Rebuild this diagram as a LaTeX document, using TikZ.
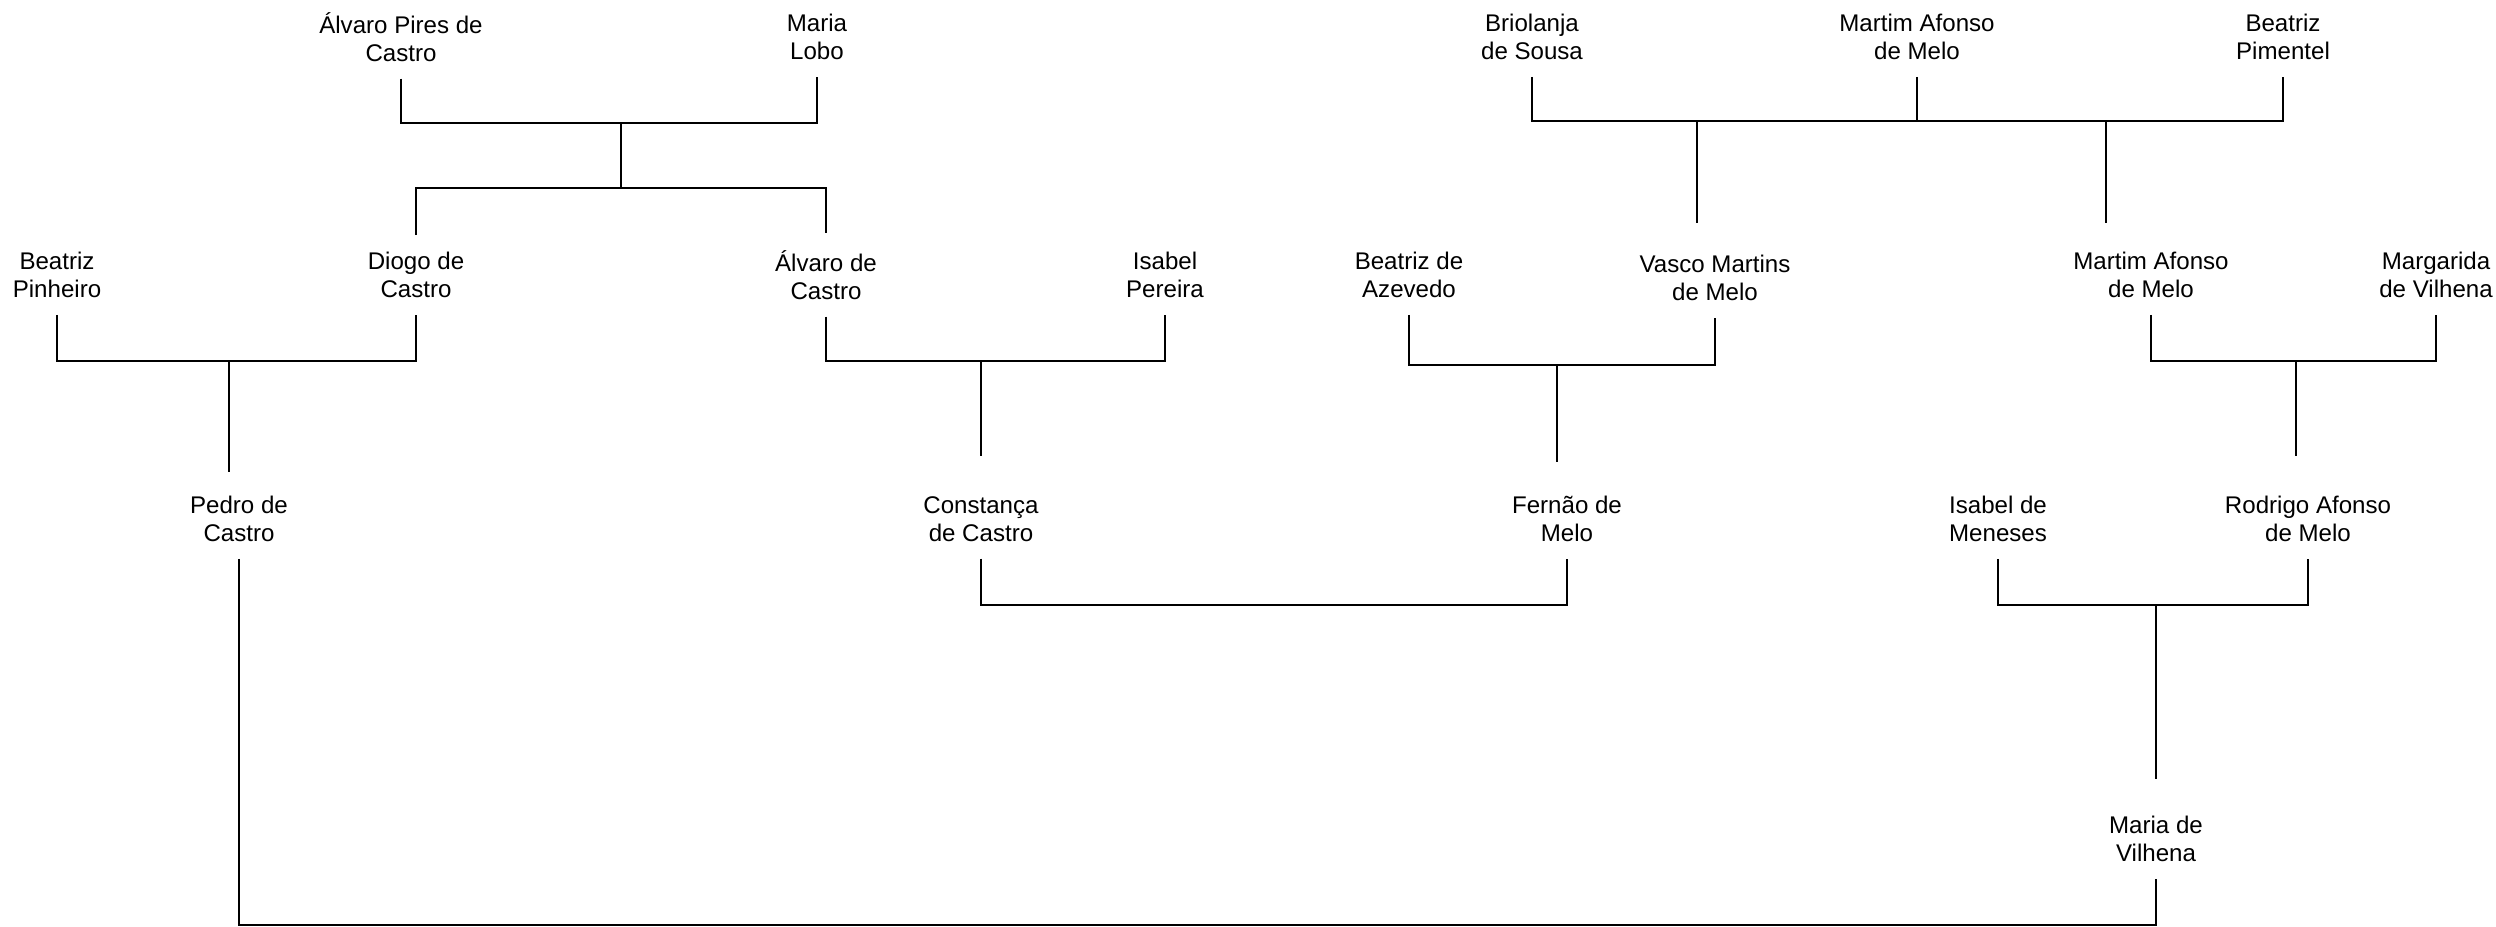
\documentclass[tikz,border=0pt]{standalone}
\usepackage{fontspec}
\setmainfont{Liberation Sans}
\usetikzlibrary{calc}

\begin{document}
\begin{tikzpicture}[x=0.01cm,y=-0.01cm,line width=0.4pt,
  person/.style={align=center,inner xsep=0pt,inner ysep=4.6pt,font=\fontsize{6.85}{8.1}\selectfont}]
\useasboundingbox (0,0) rectangle (2496,927);

\node[person] (apc) at (401,37) {Álvaro Pires de\\Castro};
\node[person] (mlobo) at (817,37) {Maria\\Lobo};
\node[person] (bsousa) at (1532,37) {Briolanja\\de Sousa};
\node[person] (mam) at (1917,37) {Martim Afonso\\de Melo};
\node[person] (bpim) at (2283,37) {Beatriz\\Pimentel};

\node[person] (bpin) at (57,275) {Beatriz\\Pinheiro};
\node[person] (diogo) at (416,275) {Diogo de\\Castro};
\node[person] (alvaro) at (826,275) {Álvaro de\\Castro};
\node[person] (ipereira) at (1165,275) {Isabel\\Pereira};
\node[person] (bazev) at (1409,275) {Beatriz de\\Azevedo};
\node[person] (vasco) at (1715,278) {Vasco Martins\\de Melo};
\node[person] (mamjr) at (2151,275) {Martim Afonso\\de Melo};
\node[person] (margarida) at (2436,275) {Margarida\\de Vilhena};

\node[person] (pedro) at (239,519) {Pedro de\\Castro};
\node[person] (constanca) at (981,519) {Constança\\de Castro};
\node[person] (fernao) at (1567,519) {Fernão de\\Melo};
\node[person] (imeneses) at (1998,519) {Isabel de\\Meneses};
\node[person] (rodrigo) at (2308,519) {Rodrigo Afonso\\de Melo};

\node[person] (mvilhena) at (2156,839) {Maria de\\Vilhena};

\coordinate (j1) at (621,123);
\coordinate (k1) at (621,188);
\coordinate (j2) at (1697,121);
\coordinate (j3) at (2106,121);
\coordinate (j4) at (229,361);
\coordinate (j5) at (981,361);
\coordinate (j6) at (1557,365);
\coordinate (j7) at (2296,361);
\coordinate (j8) at (2156,605);
\coordinate (j9) at (1300,605);
\coordinate (j10) at (2156,925);

\draw (apc.south) |- (j1) -| (mlobo.south);
\draw (j1) -- (k1);
\draw (diogo.north) |- (k1) -| (alvaro.north);

\draw (bsousa.south) |- (j2) -| (bpim.south);
\draw (mam.south) -- (mam.south |- j2);
\draw[shorten >=0.15cm] (j2) -- (j2 |- vasco.north);
\draw[shorten >=0.12cm] (j3) -- (j3 |- mamjr.north);

\draw (bpin.south) |- (j4) -| (diogo.south);
\draw[shorten >=0.07cm] (j4) -- (j4 |- pedro.north);
\draw (alvaro.south) |- (j5) -| (ipereira.south);
\draw[shorten >=0.23cm] (j5) -- (j5 |- constanca.north);
\draw (bazev.south) |- (j6) -| (vasco.south);
\draw[shorten >=0.17cm] (j6) -- (j6 |- fernao.north);
\draw (mamjr.south) |- (j7) -| (margarida.south);
\draw[shorten >=0.23cm] (j7) -- (j7 |- rodrigo.north);

\draw (constanca.south) |- (j9) -| (fernao.south);
\draw (imeneses.south) |- (j8) -| (rodrigo.south);
\draw[shorten >=0.2cm] (j8) -- (mvilhena.north);
\draw (pedro.south) |- (j10) -- (mvilhena.south);
\end{tikzpicture}
\end{document}
